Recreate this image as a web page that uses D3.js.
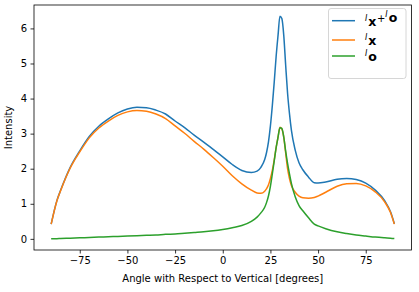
<!DOCTYPE html>
<html><head><meta charset="utf-8">
<script src="https://cdn.jsdelivr.net/npm/d3@7"></script>
<style>
html,body{margin:0;padding:0;background:#fff;}
svg{display:block;font-family:"DejaVu Sans",sans-serif;}
</style></head>
<body><svg id="c" width="419" height="292"></svg>
<script>
const angles = [-90,-87,-85,-80,-75,-70,-65,-60,-55,-50,-45,-40,-35,-30,-25,-20,-15,-10,-5,0,5,10,15,18,20,22,23,24,25,26,27,28,29,30,31,32,33,34,35,36,38,40,42,45,48,50,54,60,65,70,75,80,85,88,90];
const Ix = [0.42,1.08,1.38,2.02,2.48,2.88,3.16,3.36,3.52,3.62,3.66,3.64,3.56,3.43,3.22,3.01,2.78,2.56,2.32,2.07,1.80,1.57,1.39,1.31,1.30,1.36,1.43,1.54,1.72,1.95,2.25,2.60,2.90,3.18,3.13,2.90,2.45,2.00,1.72,1.52,1.33,1.22,1.17,1.16,1.18,1.22,1.33,1.50,1.57,1.58,1.51,1.34,1.05,0.75,0.42];
const Io = [0.00,0.005,0.01,0.02,0.03,0.04,0.05,0.06,0.07,0.08,0.09,0.10,0.11,0.13,0.14,0.16,0.18,0.20,0.23,0.27,0.32,0.38,0.50,0.62,0.74,0.90,1.04,1.23,1.50,1.85,2.22,2.60,2.90,3.17,3.15,2.90,2.50,2.15,1.85,1.58,1.20,0.95,0.80,0.60,0.42,0.37,0.29,0.20,0.15,0.11,0.08,0.05,0.03,0.02,0.01];
const Isum = [0.42,1.09,1.39,2.04,2.51,2.92,3.21,3.42,3.59,3.70,3.75,3.74,3.67,3.56,3.36,3.17,2.96,2.76,2.55,2.34,2.12,1.95,1.89,1.93,2.04,2.26,2.47,2.77,3.22,3.80,4.47,5.20,5.80,6.35,6.28,5.80,4.95,4.15,3.57,3.10,2.53,2.17,1.97,1.76,1.60,1.59,1.62,1.70,1.72,1.69,1.59,1.39,1.08,0.77,0.43];
const xTicks = [-75,-50,-25,0,25,50,75];
const yTicks = [0,1,2,3,4,5,6];
const colors = ["#1f77b4","#ff7f0e","#2ca02c"];

const svg = d3.select("#c");
const L = 34, R = 411.5, T = 5, B = 250;
const x = d3.scaleLinear().domain([-99,99]).range([L,R]);
const ymin = 0, ymax = d3.max(Isum), pad = (ymax-ymin)*0.05;
const y = d3.scaleLinear().domain([ymin-pad, ymax+pad]).range([B,T]);

const fmt = d => (d<0 ? "\u2212"+Math.abs(d) : ""+d);

const xa = svg.append("g").attr("transform",`translate(0,${B})`)
  .call(d3.axisBottom(x).tickValues(xTicks).tickSize(3.5).tickPadding(3.5).tickFormat(fmt));
const ya = svg.append("g").attr("transform",`translate(${L},0)`)
  .call(d3.axisLeft(y).tickValues(yTicks).tickSize(3.5).tickPadding(3.5).tickFormat(fmt));
[xa,ya].forEach(a=>{
  a.select(".domain").remove();
  a.selectAll("line").attr("stroke","#000").attr("stroke-width",0.8);
  a.selectAll("text").attr("font-size",10).attr("fill","#000").attr("font-family","DejaVu Sans");
});

const line = d3.line().x((d,i)=>x(angles[i])).y(d=>y(d)).curve(d3.curveMonotoneX);
const data = [Isum, Ix, Io];
data.forEach((s,k)=>{
  svg.append("path").datum(s).attr("d",line).attr("fill","none")
    .attr("stroke",colors[k]).attr("stroke-width",1.5).attr("stroke-linejoin","round");
});

svg.append("rect").attr("x",L).attr("y",T).attr("width",R-L).attr("height",B-T)
  .attr("fill","none").attr("stroke","#000").attr("stroke-width",0.8);

svg.append("text").attr("x",(L+R)/2).attr("y",282).attr("text-anchor","middle")
  .attr("font-size",10).text("Angle with Respect to Vertical [degrees]");
svg.append("text").attr("transform",`translate(12,${(T+B)/2}) rotate(-90)`)
  .attr("text-anchor","middle").attr("font-size",10).text("Intensity");

// legend
const lg = svg.append("g");
lg.append("rect").attr("x",328.5).attr("y",8.5).attr("width",77.5).attr("height",70)
  .attr("rx",2.5).attr("fill","#fff").attr("fill-opacity",0.8).attr("stroke","#cccccc").attr("stroke-width",0.8);
const ly = [20.7, 40, 56];
const labels = [[["I","x"],["+"],["I","o"]],[["I","x"]],[["I","o"]]];
ly.forEach((yy,k)=>{
  lg.append("line").attr("x1",332).attr("x2",355).attr("y1",yy).attr("y2",yy)
    .attr("stroke",colors[k]).attr("stroke-width",1.5);
  const t = lg.append("text").attr("x",365).attr("y",yy+5).attr("font-size",10);
  labels[k].forEach(part=>{
    if(part.length===2){
      t.append("tspan").attr("font-size",8).attr("font-style","italic").attr("dy",-5).text(part[0]);
      t.append("tspan").attr("font-size",12.5).attr("font-weight","bold").attr("dy",5).attr("dx",1).text(part[1]);
    } else {
      t.append("tspan").attr("font-size",10).attr("dy",-4).attr("dx",0.5).text(part[0]);
      t.append("tspan").attr("dy",4).text("");
    }
  });
});
</script></body></html>
